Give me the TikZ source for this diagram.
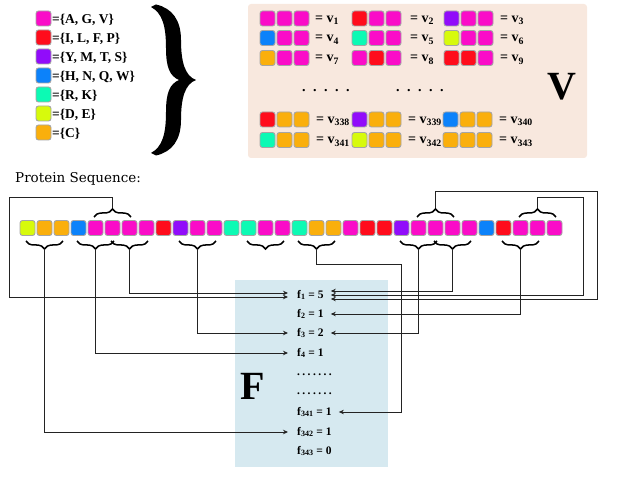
\documentclass[tikz,border=0pt]{standalone}
\usepackage{fontspec}
\setmainfont{Liberation Serif}
\newfontfamily\dvs{DejaVu Serif}
\usetikzlibrary{arrows.meta,decorations.pathreplacing,calc}
\definecolor{cM}{RGB}{250,12,200}
\definecolor{cR}{RGB}{255,12,28}
\definecolor{cP}{RGB}{145,12,250}
\definecolor{cB}{RGB}{12,130,250}
\definecolor{cT}{RGB}{12,250,180}
\definecolor{cL}{RGB}{215,250,12}
\definecolor{cO}{RGB}{250,175,12}
\definecolor{sqedge}{RGB}{165,165,165}
\definecolor{peach}{RGB}{248,232,222}
\definecolor{icebl}{RGB}{214,233,240}
\definecolor{ink}{RGB}{35,35,35}
\newcommand{\vgrp}[8]{%
  \node[sq, fill=#4] (#1a) at (#2+7.5,#3) {};
  \node[sq, fill=#5] (#1b) at (#2+24.5,#3) {};
  \node[sq, fill=#6] (#1c) at (#2+41.5,#3) {};
  \node[vl] (#1t) at (#7,#3+4) {= v\textsubscript{#8}};
}
\begin{document}
\begin{tikzpicture}[x=1pt,y=-1pt,
  sq/.style={draw=sqedge, line width=0.9pt, rounded corners=2.5pt, minimum size=15pt, inner sep=0pt},
  brc/.style={decorate, decoration={brace, amplitude=8pt}, line width=1.5pt, draw=black},
  cn/.style={draw=ink, line width=0.9pt, -{Stealth[length=5pt,width=4.5pt]}},
  leg/.style={anchor=base west, inner sep=0pt, font=\fontsize{13.5}{14}\selectfont\bfseries},
  vl/.style={anchor=base west, inner sep=0pt, font=\fontsize{14}{14}\selectfont\bfseries},
  fl/.style={anchor=west, inner sep=0pt, font=\fontsize{11.5}{12}\selectfont\bfseries},
  big/.style={inner sep=0pt, font=\fontsize{40}{40}\selectfont\bfseries},
]
\useasboundingbox (0,0) rectangle (630,500);

% ---------- legend ----------
\node[sq, fill=cM] (l1) at (43.5,18.5) {};
\node[leg] (t1) at (52,23.5) {=\{A, G, V\}};
\node[sq, fill=cR] (l2) at (43.5,37.5) {};
\node[leg] (t2) at (52,42.5) {=\{I, L, F, P\}};
\node[sq, fill=cP] (l3) at (43.5,56.5) {};
\node[leg] (t3) at (52,61.5) {=\{Y, M, T, S\}};
\node[sq, fill=cB] (l4) at (43.5,75.5) {};
\node[leg] (t4) at (52,80.5) {=\{H, N, Q, W\}};
\node[sq, fill=cT] (l5) at (43.5,94.5) {};
\node[leg] (t5) at (52,99.5) {=\{R, K\}};
\node[sq, fill=cL] (l6) at (43.5,113.5) {};
\node[leg] (t6) at (52,118.5) {=\{D, E\}};
\node[sq, fill=cO] (l7) at (43.5,132.5) {};
\node[leg] (t7) at (52,137.5) {=\{C\}};

% big curly brace (shape)
\fill[black] (156,4.5) .. controls (172,8) and (181,20) .. (181,40)
  .. controls (181,62) and (185,76) .. (196,80)
  .. controls (185,84) and (181,98) .. (181,120)
  .. controls (181,140) and (172,152) .. (156,155.5)
  -- (151,153)
  .. controls (162,147) and (166,135) .. (166,112)
  .. controls (166,92) and (170,84) .. (179,80)
  .. controls (170,76) and (166,68) .. (166,48)
  .. controls (166,25) and (162,13) .. (151,7) -- cycle;

% ---------- V panel ----------
\fill[peach, rounded corners=3pt] (248,4) rectangle (587,158);
\vgrp{g1}{260}{18.5}{cM}{cM}{cM}{315}{1}
\vgrp{g2}{352}{18.5}{cR}{cM}{cM}{410}{2}
\vgrp{g3}{444}{18.5}{cP}{cM}{cM}{500}{3}
\vgrp{g4}{260}{38}{cB}{cM}{cM}{315}{4}
\vgrp{g5}{352}{38}{cT}{cM}{cM}{410}{5}
\vgrp{g6}{444}{38}{cL}{cM}{cM}{500}{6}
\vgrp{g7}{260}{58}{cO}{cM}{cM}{315}{7}
\vgrp{g8}{352}{58}{cM}{cR}{cM}{410}{8}
\vgrp{g9}{444}{58}{cR}{cR}{cM}{500}{9}
\vgrp{g338}{260}{119.5}{cR}{cO}{cO}{316}{338}
\vgrp{g339}{352}{119.5}{cP}{cO}{cO}{408}{339}
\vgrp{g340}{443}{119.5}{cB}{cO}{cO}{499}{340}
\vgrp{g341}{260}{140}{cT}{cO}{cO}{316}{341}
\vgrp{g342}{352}{140}{cL}{cO}{cO}{408}{342}
\vgrp{g343}{443}{140}{cO}{cO}{cO}{499}{343}
\node[anchor=west, inner sep=0pt, font=\fontsize{14}{14}\selectfont\bfseries] (vd1) at (302,91) {.\hspace{7.5pt}.\hspace{7.5pt}.\hspace{7.5pt}.\hspace{7.5pt}.};
\node[anchor=west, inner sep=0pt, font=\fontsize{14}{14}\selectfont\bfseries] (vd2) at (396,91) {.\hspace{7.5pt}.\hspace{7.5pt}.\hspace{7.5pt}.\hspace{7.5pt}.};
\node[big] (Vl) at (562,87) {V};

% ---------- sequence ----------
\node[anchor=base west, inner sep=0pt, font=\dvs\fontsize{13.5}{14}\selectfont] (ps) at (15,183) {Protein Sequence:};
\foreach \c [count=\i from 0] in {L,O,O,B,M,M,M,M,R,P,M,M,T,T,M,M,T,O,O,M,R,R,P,M,M,M,M,B,R,M,M,M}
  \node[sq, fill=c\c] (s\i) at ({27.5+17*\i},228) {};
\foreach \k in {1,4,6,10,14,17,23,25,29} {
  \draw[brc] ($(s\k.center)+(18.5,13)$) -- ($(s\k.center)+(-18.5,13)$);
  \coordinate (b\k) at ($(s\k.center)+(0,21.5)$);
}
\foreach \k in {5,24,30} {
  \draw[brc] ($(s\k.center)+(-18.5,-11)$) -- ($(s\k.center)+(18.5,-11)$);
  \coordinate (a\k) at ($(s\k.center)+(0,-19.5)$);
}

% ---------- F panel ----------
\fill[icebl] (235,280) rectangle (388,467);
\node[big] (Fl) at (252.5,386.5) {F};
\node[fl] (f1) at (297,295) {f\textsubscript{1} = 5};
\node[fl] (f2) at (297,314) {f\textsubscript{2} = 1};
\node[fl] (f3) at (297,333) {f\textsubscript{3} = 2};
\node[fl] (f4) at (297,353) {f\textsubscript{4} = 1};
\node[fl] (fd1) at (297,375) {.\hspace{2.4pt}.\hspace{2.4pt}.\hspace{2.4pt}.\hspace{2.4pt}.\hspace{2.4pt}.\hspace{2.4pt}.};
\node[fl] (fd2) at (297,394) {.\hspace{2.4pt}.\hspace{2.4pt}.\hspace{2.4pt}.\hspace{2.4pt}.\hspace{2.4pt}.\hspace{2.4pt}.};
\node[fl] (f341) at (297,412) {f\textsubscript{341} = 1};
\node[fl] (f342) at (297,432) {f\textsubscript{342} = 1};
\node[fl] (f343) at (297,451) {f\textsubscript{343} = 0};

\coordinate (f1L1) at ($(f1.west)+(-9,-2)$);
\coordinate (f1L2) at ($(f1.west)+(-9,2)$);
\coordinate (f1R1) at ($(f1.east)+(7,-4)$);
\coordinate (f1R2) at ($(f1.east)+(7,0)$);
\coordinate (f1R3) at ($(f1.east)+(7,4)$);
\coordinate (f2R) at ($(f2.east)+(7,0)$);
\coordinate (f3L) at ($(f3.west)+(-9,0)$);
\coordinate (f3R) at ($(f3.east)+(7,0)$);
\coordinate (f4L) at ($(f4.west)+(-9,0)$);
\coordinate (f341R) at ($(f341.east)+(7,0)$);
\coordinate (f342L) at ($(f342.west)+(-9,0)$);
\coordinate (k1) at (9,197);
\coordinate (k2) at (401,264);
\coordinate (k3) at (597,191);
\coordinate (k4) at (583,197);

% ---------- connectors ----------
\draw[cn] (b1) |- (f342L);
\draw[cn] (b4) |- (f4L);
\draw[cn] (b6) |- (f1L1);
\draw[cn] (b10) |- (f3L);
\draw[cn] (b17) |- (k2) |- (f341R);
\draw[cn] (b23) |- (f3R);
\draw[cn] (b25) |- (f1R1);
\draw[cn] (b29) |- (f2R);
\draw[cn] (a5) |- (k1) |- (f1L2);
\draw[cn] (a24) |- (k3) |- (f1R3);
\draw[cn] (a30) |- (k4) |- (f1R2);
\end{tikzpicture}
\end{document}
